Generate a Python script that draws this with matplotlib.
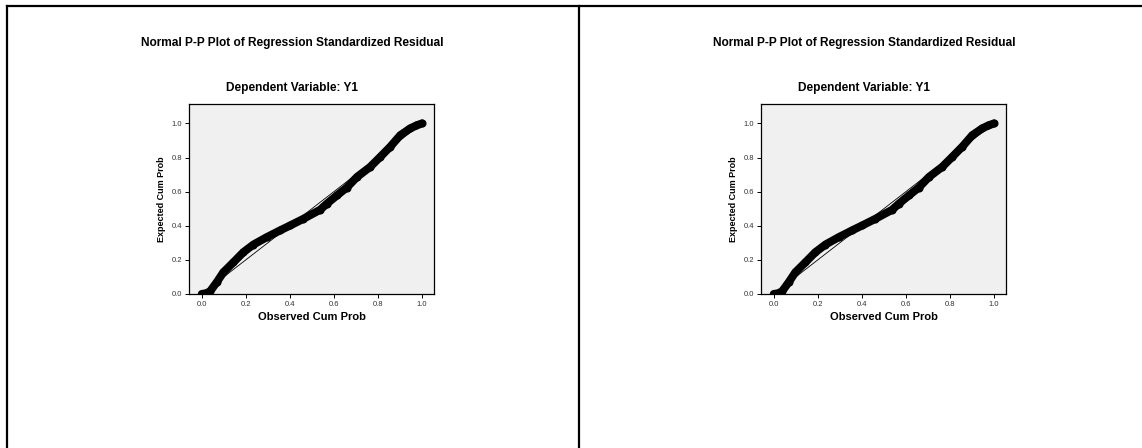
import matplotlib.pyplot as plt
from matplotlib.lines import Line2D

plt.rcParams['font.family'] = ['Liberation Sans', 'DejaVu Sans']

# P-P plot points (observed vs expected cum prob)
obs_cum = [0.0, 0.02, 0.038, 0.068, 0.098, 0.144, 0.189, 0.235, 0.295, 0.356,
           0.402, 0.462, 0.538, 0.568, 0.614, 0.659, 0.705, 0.765, 0.811,
           0.856, 0.902, 0.947, 0.975, 1.0]
exp_cum = [0.0, 0.004, 0.016, 0.069, 0.127, 0.186, 0.245, 0.290, 0.333, 0.373,
           0.402, 0.441, 0.494, 0.529, 0.578, 0.624, 0.686, 0.745, 0.804,
           0.863, 0.931, 0.971, 0.988, 1.0]
ticks = [0.0, 0.2, 0.4, 0.6, 0.8, 1.0]
tick_labels = ['0.0', '0.2', '0.4', '0.6', '0.8', '1.0']

W, H = 1142, 448
fig = plt.figure(figsize=(W / 100, H / 100), dpi=100)

# outer frame: top line, left edge, divider
fig.add_artist(Line2D([7 / W, 1], [1 - 6 / H, 1 - 6 / H], color='black', lw=1.6,
                      transform=fig.transFigure))
for px in (7, 579):
    fig.add_artist(Line2D([px / W, px / W], [0, 1 - 6 / H], color='black', lw=1.6,
                          transform=fig.transFigure))

for off in (0, 572):
    ax = fig.add_axes([(189 + off) / W, (H - 294) / H, 245 / W, 190 / H])
    ax.set_facecolor('#f0f0f0')
    ax.plot([0, 1], [0, 1], color='black', lw=0.6, zorder=2)
    ax.plot(obs_cum, exp_cum, color='black', lw=5.8, marker='o', markersize=5.8,
            markeredgewidth=0, solid_capstyle='round', solid_joinstyle='round',
            zorder=3)
    ax.set_xlim(-0.058, 1.055)
    ax.set_ylim(0, 1.114)
    ax.set_xticks(ticks)
    ax.set_xticklabels(tick_labels)
    ax.set_yticks(ticks)
    ax.set_yticklabels(tick_labels)
    ax.tick_params(labelsize=5.5, labelcolor='#333333', length=3, width=0.7, pad=2)
    for s in ax.spines.values():
        s.set_linewidth(0.9)
    ax.set_xlabel('Observed Cum Prob', fontsize=8, fontweight='bold', labelpad=3)
    ax.set_ylabel('Expected Cum Prob', fontsize=6.5, fontweight='bold', labelpad=4)
    cx = (292 + off) / W
    fig.text(cx, 1 - 43 / H, 'Normal P-P Plot of Regression Standardized Residual',
             ha='center', va='center', fontsize=8.6, fontweight='bold')
    fig.text(cx, 1 - 88 / H, 'Dependent Variable: Y1',
             ha='center', va='center', fontsize=8.6, fontweight='bold')

fig.savefig('out.png', dpi=100)
